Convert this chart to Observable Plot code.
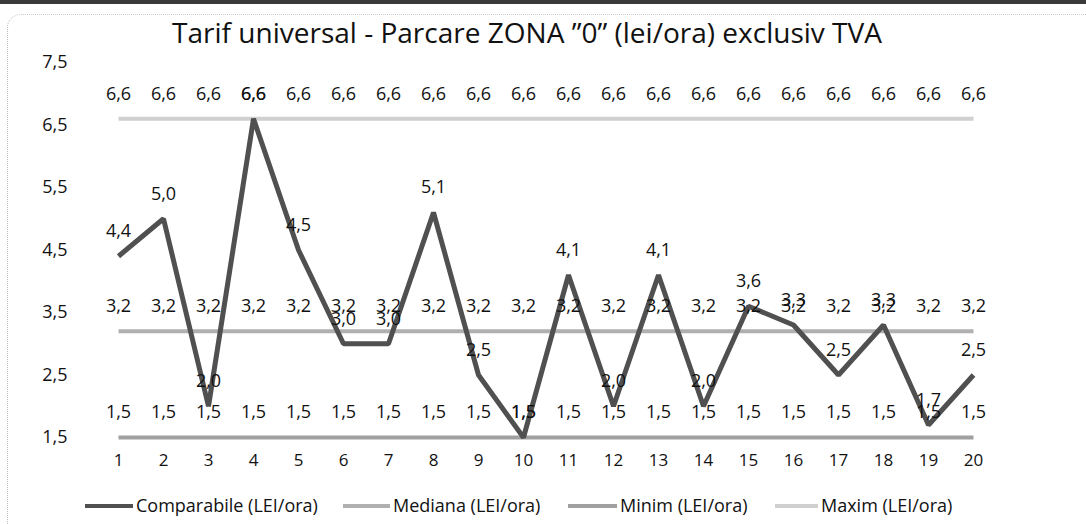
<!DOCTYPE html>
<html>
<head>
<meta charset="utf-8">
<script src="https://cdn.jsdelivr.net/npm/d3@7"></script>
<script src="https://cdn.jsdelivr.net/npm/@observablehq/plot@0.6"></script>
<style>
  html, body { margin: 0; padding: 0; background: #fff; }
  #wrap { position: relative; width: 1086px; height: 524px; overflow: hidden; background: #fff; font-family: "Open Sans", sans-serif; color: #111; }
  #topbar { position: absolute; left: 0; top: 0; width: 1086px; height: 4px; background: #3a3a3a; }
  #frame { position: absolute; left: 7px; top: 14px; width: 1100px; height: 540px; border-left: 1px dotted #bbb; border-top: 1px dotted #ccc; border-top-left-radius: 14px; }
  #title { position: absolute; left: 0; top: 14px; width: 1054px; text-align: center; font-size: 27px; line-height: 36px; color: #111; white-space: nowrap; }
  #chart { position: absolute; left: 0; top: 0; }
  #legend { position: absolute; left: 0; top: 492px; width: 1086px; height: 26px; font-size: 18px; line-height: 26px; }
  .item { position: absolute; top: 0; white-space: nowrap; }
  .swatch { display: inline-block; vertical-align: middle; height: 4px; margin-right: 3px; position: relative; top: -1px; }
</style>
</head>
<body>
<div id="wrap">
  <div id="topbar"></div>
  <div id="frame"></div>
  <div id="chart"></div>
  <div id="title">Tarif universal - Parcare ZONA ”0” (lei/ora) exclusiv TVA</div>
  <div id="legend"></div>
</div>
<script>
// ---- data ----
const categories = [1, 2, 3, 4, 5, 6, 7, 8, 9, 10, 11, 12, 13, 14, 15, 16, 17, 18, 19, 20];
const comparabile = [4.4, 5.0, 2.0, 6.6, 4.5, 3.0, 3.0, 5.1, 2.5, 1.5, 4.1, 2.0, 4.1, 2.0, 3.6, 3.3, 2.5, 3.3, 1.7, 2.5];
const mediana = [3.2, 3.2, 3.2, 3.2, 3.2, 3.2, 3.2, 3.2, 3.2, 3.2, 3.2, 3.2, 3.2, 3.2, 3.2, 3.2, 3.2, 3.2, 3.2, 3.2];
const minim = [1.5, 1.5, 1.5, 1.5, 1.5, 1.5, 1.5, 1.5, 1.5, 1.5, 1.5, 1.5, 1.5, 1.5, 1.5, 1.5, 1.5, 1.5, 1.5, 1.5];
const maxim = [6.6, 6.6, 6.6, 6.6, 6.6, 6.6, 6.6, 6.6, 6.6, 6.6, 6.6, 6.6, 6.6, 6.6, 6.6, 6.6, 6.6, 6.6, 6.6, 6.6];
const yTicks = [1.5, 2.5, 3.5, 4.5, 5.5, 6.5, 7.5];
const seriesNames = ["Comparabile (LEI/ora)", "Mediana (LEI/ora)", "Minim (LEI/ora)", "Maxim (LEI/ora)"];

// ---- styles ----
const seriesStyle = {
  "Comparabile (LEI/ora)": {color: "#505050", width: 5, swatch: 48},
  "Mediana (LEI/ora)": {color: "#b0b0b0", width: 4, swatch: 47},
  "Minim (LEI/ora)": {color: "#a0a0a0", width: 4, swatch: 49},
  "Maxim (LEI/ora)": {color: "#d0d0d0", width: 4, swatch: 43}
};
const legendLeft = {"Comparabile (LEI/ora)": 85, "Mediana (LEI/ora)": 343, "Minim (LEI/ora)": 568, "Maxim (LEI/ora)": 775};

const valuesBySeries = {
  "Comparabile (LEI/ora)": comparabile,
  "Mediana (LEI/ora)": mediana,
  "Minim (LEI/ora)": minim,
  "Maxim (LEI/ora)": maxim
};
const rows = [];
for (const s of seriesNames) {
  valuesBySeries[s].forEach((v, i) => rows.push({series: s, x: categories[i], y: v}));
}
const fmt = d => d3.format(".1f")(d).replace(".", ",");

const drawOrder = ["Maxim (LEI/ora)", "Minim (LEI/ora)", "Mediana (LEI/ora)", "Comparabile (LEI/ora)"];

const chart = Plot.plot({
  width: 1086,
  height: 524,
  marginLeft: 87,
  marginRight: 82,
  marginTop: 62,
  marginBottom: 87,
  style: {fontFamily: "'Open Sans', sans-serif", fontSize: "18px", color: "#111", background: "transparent", overflow: "visible"},
  x: {type: "point", domain: categories, padding: 0.5},
  y: {domain: [1.5, 7.5]},
  marks: [
    Plot.axisY(yTicks, {tickSize: 0, tickPadding: 20, tickFormat: fmt, label: null, fontSize: 18}),
    Plot.axisX(categories, {tickSize: 0, tickPadding: 16, label: null, fontSize: 17}),
    ...drawOrder.map(s => Plot.line(rows.filter(d => d.series === s), {
      x: "x", y: "y",
      stroke: seriesStyle[s].color,
      strokeWidth: seriesStyle[s].width,
      strokeLinejoin: "miter",
      strokeLinecap: "butt"
    })),
    ...drawOrder.map(s => Plot.text(rows.filter(d => d.series === s), {
      x: "x", y: "y", text: d => fmt(d.y), dy: -25, fill: "#111", fontSize: 18
    }))
  ]
});
document.getElementById("chart").appendChild(chart);

// ---- title sizing: fit to the reference width ----
(function fitTitle() {
  const t = document.getElementById("title");
  const ctx = document.createElement("canvas").getContext("2d");
  ctx.font = "27px 'Open Sans', sans-serif";
  const w = ctx.measureText(t.textContent).width;
  if (w > 0) t.style.fontSize = (27 * 710 / w).toFixed(2) + "px";
})();

// ---- legend ----
const legend = document.getElementById("legend");
for (const s of seriesNames) {
  const item = document.createElement("div");
  item.className = "item";
  item.style.left = legendLeft[s] + "px";
  const sw = document.createElement("span");
  sw.className = "swatch";
  sw.style.width = seriesStyle[s].swatch + "px";
  sw.style.background = seriesStyle[s].color;
  item.appendChild(sw);
  item.appendChild(document.createTextNode(s));
  legend.appendChild(item);
}
</script>
</body>
</html>
